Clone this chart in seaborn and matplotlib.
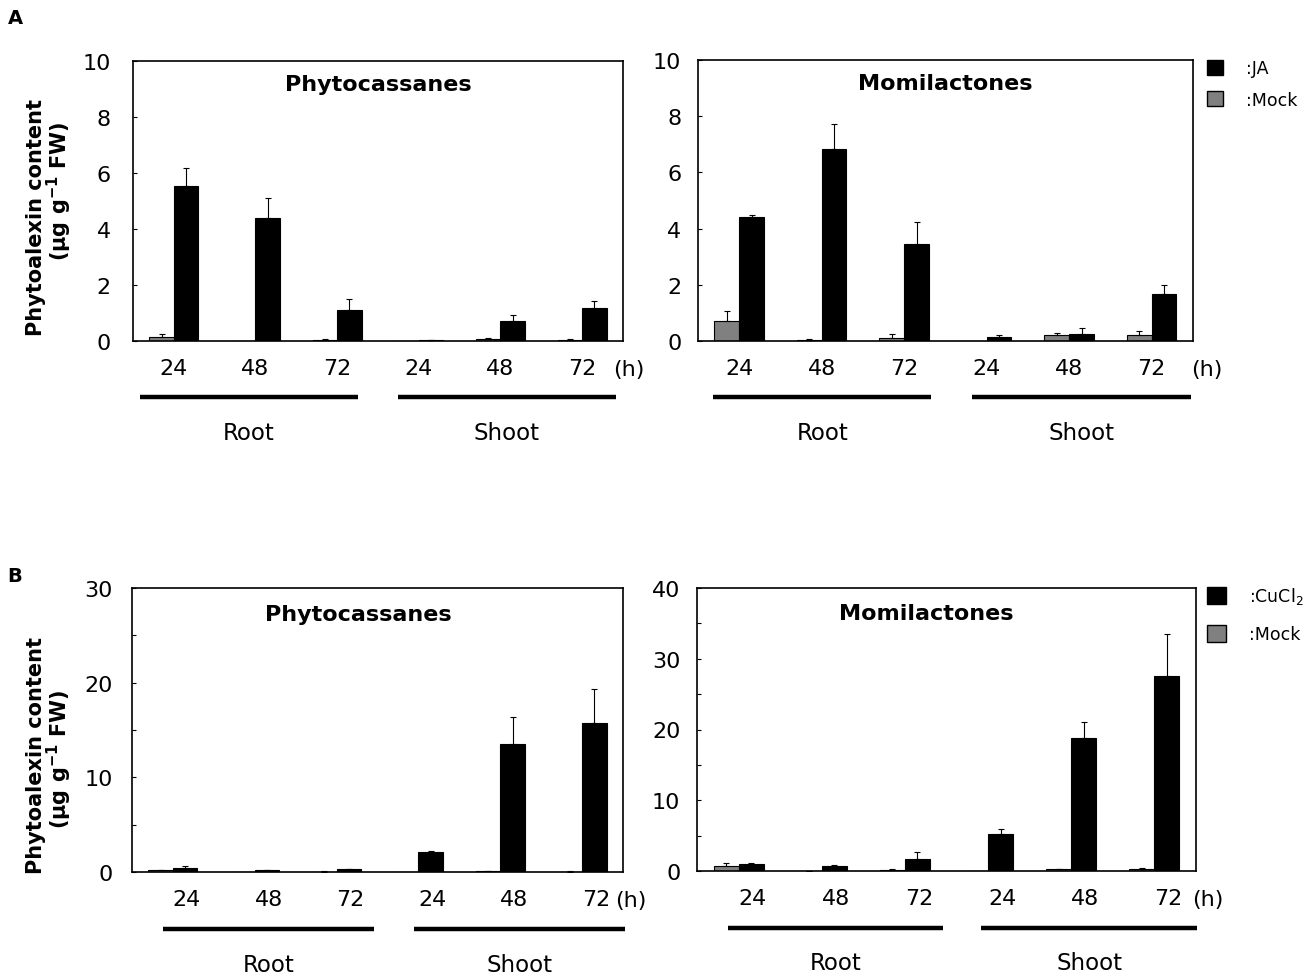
import numpy as np
import pandas as pd
import matplotlib
matplotlib.use("Agg")
import matplotlib.pyplot as plt
import matplotlib.transforms as mtransforms
from matplotlib.patches import Patch
import seaborn as sns

sns.set_style("white")
plt.rcParams["font.family"] = ["DejaVu Sans"]
plt.rcParams["mathtext.fontset"] = "dejavusans"
plt.rcParams["mathtext.default"] = "regular"
for key in ["text.color", "axes.labelcolor", "xtick.color", "ytick.color", "axes.edgecolor"]:
    plt.rcParams[key] = "black"

# ---------------- data ----------------
tissues = ["Root", "Root", "Root", "Shoot", "Shoot", "Shoot"]
hours = ["24", "48", "72", "24", "48", "72"]
groups = [t + " " + h for t, h in zip(tissues, hours)]

# A: JA treatment
phyto_ja = [5.55, 4.39, 1.11, 0.02, 0.70, 1.17]
phyto_ja_err = [0.64, 0.71, 0.39, 0.01, 0.22, 0.27]
phyto_ja_mock = [0.15, 0.0, 0.03, 0.0, 0.07, 0.04]
phyto_ja_mock_err = [0.10, 0.0, 0.03, 0.0, 0.05, 0.03]

momi_ja = [4.42, 6.83, 3.45, 0.13, 0.26, 1.67]
momi_ja_err = [0.08, 0.89, 0.78, 0.09, 0.20, 0.31]
momi_ja_mock = [0.70, 0.03, 0.11, 0.0, 0.23, 0.22]
momi_ja_mock_err = [0.35, 0.03, 0.13, 0.0, 0.07, 0.14]

# B: CuCl2 treatment
phyto_cu = [0.45, 0.17, 0.27, 2.07, 13.5, 15.77]
phyto_cu_err = [0.22, 0.08, 0.08, 0.15, 2.9, 3.6]
phyto_cu_mock = [0.17, 0.0, 0.05, 0.0, 0.07, 0.05]
phyto_cu_mock_err = [0.05, 0.0, 0.02, 0.0, 0.02, 0.02]

momi_cu = [0.93, 0.66, 1.69, 5.22, 18.76, 27.5]
momi_cu_err = [0.20, 0.23, 0.99, 0.70, 2.3, 5.97]
momi_cu_mock = [0.75, 0.05, 0.15, 0.0, 0.25, 0.25]
momi_cu_mock_err = [0.38, 0.02, 0.10, 0.0, 0.08, 0.15]


def make_df(mock, mock_err, treat, treat_err):
    df_mock = pd.DataFrame({"group": groups, "treatment": "Mock", "value": mock, "err": mock_err})
    df_treat = pd.DataFrame({"group": groups, "treatment": "Treat", "value": treat, "err": treat_err})
    return pd.concat([df_mock, df_treat], ignore_index=True)


palette = {"Mock": "#808080", "Treat": "black"}
hue_order = ["Mock", "Treat"]


def draw_panel(ax, df, title, title_x, title_y, ymax, ystep, yminor, label_shift,
               h_x, root_line, shoot_line, ypad):
    sns.barplot(data=df, x="group", y="value", hue="treatment", order=groups,
                hue_order=hue_order, palette=palette, width=0.6, errorbar=None,
                edgecolor="black", linewidth=0.8, saturation=1, legend=False, ax=ax)

    # one-sided error bars on top of each bar
    for container, level in zip(ax.containers, hue_order):
        errs = df[df["treatment"] == level].set_index("group").loc[groups, "err"].values
        xs, ys, es = [], [], []
        for bar, e in zip(container, errs):
            if e > 0:
                xs.append(bar.get_x() + bar.get_width() / 2)
                ys.append(bar.get_height())
                es.append(e)
        ax.errorbar(xs, ys, yerr=[np.zeros(len(es)), es], fmt="none", ecolor="black",
                    elinewidth=0.8, capsize=2, capthick=0.8)

    ax.set_xlim(-0.5, 5.5)
    ax.set_ylim(0, ymax)
    ax.set_yticks(np.arange(0, ymax + 0.1, ystep))
    if yminor:
        ax.set_yticks(np.arange(0, ymax + 0.1, yminor), minor=True)
    ax.set_xticks(np.arange(6) + label_shift, hours)
    ax.set_xticks(np.arange(0.5, 5.0, 1.0), minor=True)
    ax.tick_params(axis="x", which="major", length=0, labelsize=16, pad=12)
    ax.tick_params(axis="x", which="minor", direction="in", length=4, width=0.8)
    ax.tick_params(axis="y", which="both", direction="in", length=3, width=0.8,
                   labelsize=16, pad=ypad, left=True)
    ax.set_xlabel("")
    ax.set_ylabel("")
    for sp in ax.spines.values():
        sp.set_visible(True)
        sp.set_linewidth(1.2)
        sp.set_color("black")

    ax.text(title_x, title_y, title, transform=ax.transAxes, ha="center", va="center",
            fontsize=16, fontweight="bold")

    trans = mtransforms.blended_transform_factory(ax.transData, ax.transAxes)
    ax.text(h_x, -0.1, "(h)", transform=trans, ha="center", va="center", fontsize=16)
    for (x0, x1), name in zip([root_line, shoot_line], ["Root", "Shoot"]):
        ax.plot([x0, x1], [-0.2, -0.2], transform=trans, color="black", lw=3.2,
                solid_capstyle="butt", clip_on=False)
        ax.text((x0 + x1) / 2, -0.325, name, transform=trans, ha="center", va="center",
                fontsize=16.5)


fig = plt.figure(figsize=(13.16, 9.79), dpi=100)
W, H = 1316, 979


def px_axes(x0, y0, x1, y1):
    return fig.add_axes([x0 / W, 1 - y1 / H, (x1 - x0) / W, (y1 - y0) / H])


ax1 = px_axes(133, 62, 623, 342)
ax2 = px_axes(698, 61, 1193, 342)
ax3 = px_axes(132, 589, 623, 873)
ax4 = px_axes(697, 589, 1196, 872)

draw_panel(ax1, make_df(phyto_ja_mock, phyto_ja_mock_err, phyto_ja, phyto_ja_err),
           "Phytocassanes", 0.5, 0.918, 10, 2, None, 0.0, 5.57, (-0.42, 2.25), (2.74, 5.41), 16)
draw_panel(ax2, make_df(momi_ja_mock, momi_ja_mock_err, momi_ja, momi_ja_err),
           "Momilactones", 0.5, 0.918, 10, 2, None, 0.0, 5.67, (-0.32, 2.33), (2.82, 5.47), 12)
draw_panel(ax3, make_df(phyto_cu_mock, phyto_cu_mock_err, phyto_cu, phyto_cu_err),
           "Phytocassanes", 0.46, 0.91, 30, 10, 5, 0.17, 5.6, (-0.12, 2.46), (2.95, 5.52), 14)
draw_panel(ax4, make_df(momi_cu_mock, momi_cu_mock_err, momi_cu, momi_cu_err),
           "Momilactones", 0.46, 0.91, 40, 10, 5, 0.17, 5.64, (-0.13, 2.46), (2.92, 5.51), 12)

# y axis labels (two lines each)
for line1_y, line2_y in [(217, 191), (756, 759)]:
    fig.text(36 / W, 1 - line1_y / H, "Phytoalexin content", rotation=90,
             ha="center", va="center", fontsize=15, fontweight="bold")
    fig.text(59 / W, 1 - line2_y / H, r"(μg g$^{\mathbf{-1}}$ FW)", rotation=90,
             ha="center", va="center", fontsize=15, fontweight="bold")

# panel letters
fig.text(15 / W, 1 - 19 / H, "A", ha="center", va="center", fontsize=14, fontweight="bold")
fig.text(15 / W, 1 - 576 / H, "B", ha="center", va="center", fontsize=14, fontweight="bold")

# legends
for top, label, spacing, hl in [(60, ":JA", 0.8, 0.95), (586, r":CuCl$_2$", 1.1, 1.12)]:
    handles = [Patch(facecolor="black", edgecolor="black", label=label),
               Patch(facecolor="#808080", edgecolor="black", label=":Mock")]
    fig.legend(handles=handles, loc="upper left", bbox_to_anchor=(1207 / W, 1 - top / H),
               frameon=False, fontsize=12.5, handlelength=hl, handleheight=hl,
               handletextpad=1.3, labelspacing=spacing, borderpad=0, borderaxespad=0)

fig.savefig("out.png", dpi=100)
